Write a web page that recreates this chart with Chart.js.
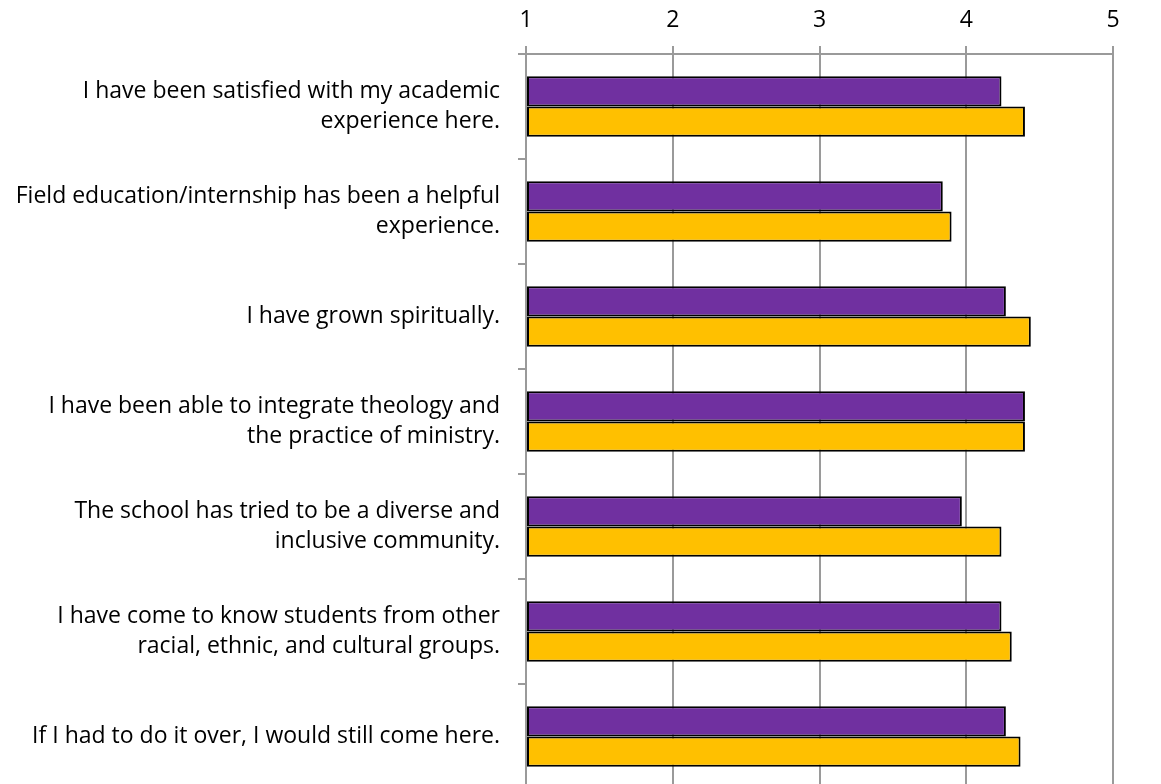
<!DOCTYPE html>
<html>
<head>
<meta charset="utf-8">
<script src="https://cdn.jsdelivr.net/npm/chart.js@4"></script>
<style>
  html, body { margin: 0; padding: 0; background: #fff; overflow: hidden; }
  #wrap { width: 1161px; height: 789px; position: relative; }
</style>
</head>
<body>
<div id="wrap"><canvas id="chart"></canvas></div>
<script>
// survey statements (wrapped the same way as the original)
const categories = [
    ['I have been satisfied with my academic', 'experience here.'],
    ['Field education/internship has been a helpful', 'experience.'],
    'I have grown spiritually.',
    ['I have been able to integrate theology and', 'the practice of ministry.'],
    ['The school has tried to be a diverse and', 'inclusive community.'],
    ['I have come to know students from other', 'racial, ethnic, and cultural groups.'],
    'If I had to do it over, I would still come here.'
];

const purpleValues = [4.24, 3.84, 4.27, 4.40, 3.97, 4.24, 4.27];
const goldValues = [4.40, 3.90, 4.44, 4.40, 4.24, 4.31, 4.37];

const axisMin = 1;
const axisMax = 5;

const gridGray = '#9a9a9a';
const fontName = 'Open Sans';
const fontSize = 23;

const ctx = document.getElementById('chart').getContext('2d');
new Chart(ctx, {
    type: 'bar',
    data: {
        labels: categories,
        datasets: [
            {
                data: purpleValues,
                base: axisMin,
                backgroundColor: '#7030A0',
                borderColor: '#000',
                borderWidth: 2,
                borderSkipped: false,
                categoryPercentage: 0.575,
                barPercentage: 1
            },
            {
                data: goldValues,
                base: axisMin,
                backgroundColor: '#FFC000',
                borderColor: '#000',
                borderWidth: 2,
                borderSkipped: false,
                categoryPercentage: 0.575,
                barPercentage: 1
            }
        ]
    },
    options: {
        indexAxis: 'y',
        responsive: true,
        maintainAspectRatio: false,
        animation: false,
        layout: { padding: { left: 0, right: 48, top: 0, bottom: 0 } },
        plugins: {
            legend: { display: false },
            tooltip: { enabled: false }
        },
        scales: {
            x: {
                position: 'top',
                min: axisMin,
                max: axisMax,
                ticks: { stepSize: 1, color: '#000', font: { family: fontName, size: fontSize }, padding: 12 },
                grid: { color: gridGray, lineWidth: 2, tickLength: 8 },
                border: { color: gridGray, width: 2 },
                afterFit: (scale) => {
                    scale.height = 54;
                    scale.paddingLeft = 0;
                }
            },
            y: {
                ticks: {
                    color: '#000',
                    font: { family: fontName, size: fontSize, lineHeight: 30 / fontSize },
                    padding: 18
                },
                grid: { drawOnChartArea: false, color: gridGray, lineWidth: 2, tickLength: 8 },
                border: { color: gridGray, width: 2 },
                afterFit: (scale) => {
                    scale.width = 526;
                    // keep the label half-heights from shrinking the plot
                    scale.paddingTop = 0;
                    scale.paddingBottom = 0;
                }
            }
        }
    }
});
</script>
</body>
</html>
